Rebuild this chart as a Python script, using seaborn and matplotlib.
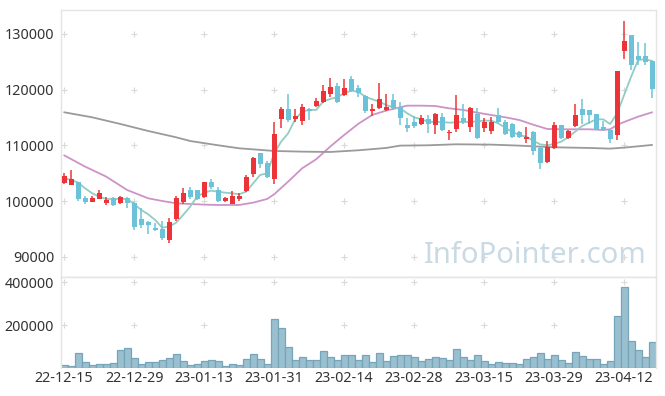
import numpy as np
import matplotlib
matplotlib.use('Agg')
import matplotlib.pyplot as plt
import seaborn as sns

tick_labels = ['22-12-15', '22-12-29', '23-01-13', '23-01-31', '23-02-14',
               '23-02-28', '23-03-15', '23-03-29', '23-04-12']

opens = [103330, 102930, 103390, 100580, 99920, 100460, 99680, 100520, 99620, 100520,
         99680, 96750, 96330, 95200, 95080, 92980, 96810, 99920, 102010, 102010,
         100820, 103390, 102070, 100040, 99560, 100400, 101830, 104950, 108650, 106860,
         103930, 114810, 116550, 114750, 114450, 116550, 117080, 117860, 119290, 120730,
         119110, 121870, 120310, 118940, 116250, 116780, 116430, 118160, 116840, 113740,
         114210, 113920, 114690, 113730, 115110, 112180, 112960, 114930, 113320, 115650,
         113140, 112600, 115470, 114210, 113850, 112420, 111160, 112420, 109550, 107040,
         109610, 113680, 111340, 113500, 116550, 116370, 115650, 113320, 112780, 111880,
         127010, 129880, 126050, 126050, 125160]
closes = [104530, 103990, 100400, 99860, 100640, 101420, 100160, 99380, 100820, 99620,
          95440, 95740, 95740, 94780, 93460, 96270, 100520, 101420, 100820, 100460,
          103390, 102490, 100040, 100580, 100940, 101000, 104410, 107760, 106680, 104410,
          112060, 116550, 114570, 115290, 116900, 116190, 118040, 119830, 120490, 117860,
          120310, 119830, 119470, 116190, 116610, 118340, 116960, 116780, 114990, 113140,
          113500, 114870, 113800, 115650, 112780, 112420, 115470, 114210, 116720, 111400,
          114210, 114210, 114210, 112060, 111520, 111520, 111520, 109010, 106860, 109730,
          113680, 111340, 112600, 115470, 115530, 115470, 112840, 112780, 111160, 123360,
          128740, 124440, 125340, 124980, 120190]
highs = [105000, 105600, 103510, 100880, 100940, 101950, 100820, 100820, 100940, 100700,
         99860, 98720, 96510, 96030, 96450, 96930, 100940, 102430, 102490, 102010,
         103510, 103990, 102550, 100820, 101830, 101420, 104710, 108000, 108650, 107220,
         114150, 116960, 119180, 116490, 117380, 116780, 118460, 120790, 122050, 121150,
         121870, 122530, 120850, 119060, 117380, 121210, 119180, 119180, 117740, 114870,
         115290, 115470, 115470, 115770, 115770, 112780, 119060, 117440, 116900, 116720,
         114930, 115110, 116720, 114570, 114030, 112600, 113320, 112600, 109730, 110800,
         114210, 113680, 112780, 117440, 118340, 116370, 115650, 114390, 112960, 123360,
         132330, 129880, 128570, 128390, 125160]
lows = [103030, 102900, 100040, 99560, 99860, 100340, 99380, 99140, 99440, 98700,
        94840, 95260, 94120, 94600, 93040, 92560, 96450, 99440, 100400, 100220,
        100520, 102250, 99860, 99860, 99500, 100100, 101650, 104410, 105900, 104230,
        103030, 113200, 114150, 114270, 113620, 114570, 116840, 117680, 118760, 117560,
        118940, 119590, 118760, 115890, 115230, 116610, 116250, 116370, 113620, 112420,
        113200, 113680, 112240, 112000, 112600, 110980, 112420, 113850, 112420, 111220,
        112420, 112060, 114030, 111880, 111340, 111340, 110450, 108290, 105780, 106860,
        109430, 111160, 111220, 113320, 113850, 113850, 112780, 112660, 110500, 110980,
        125580, 123540, 124440, 124440, 118580]
volumes = [14000, 9400, 70200, 28100, 14000, 18700, 18700, 23400, 84300, 93700,
           46800, 18700, 28100, 28100, 37500, 46800, 65600, 32800, 14000, 18700,
           32800, 37500, 32800, 9400, 18700, 14000, 42100, 65600, 42100, 18700,
           229500, 187300, 98300, 37500, 51500, 37500, 37500, 79600, 51500, 37500,
           60900, 60900, 37500, 60900, 28100, 70200, 32800, 56200, 60900, 60900,
           51500, 32800, 42100, 51500, 46800, 37500, 89000, 51500, 37500, 60900,
           32800, 18700, 28100, 23400, 23400, 18700, 42100, 51500, 70200, 42100,
           60900, 37500, 23400, 74900, 56200, 42100, 42100, 18700, 32800, 243500,
           379300, 126400, 84300, 51500, 121800]
ma5 = [104110, 103810, 103330, 102310, 101420, 100820, 100400, 100400, 100400, 100400,
       99500, 98430, 97650, 96630, 95260, 95440, 96150, 97530, 99020, 100820,
       101530, 101890, 101710, 101530, 101420, 101240, 101710, 103210, 104710, 105000,
       108590, 110680, 112180, 114690, 116070, 116370, 116370, 117860, 118340, 118640,
       119360, 119830, 119650, 118760, 118280, 117860, 117260, 116840, 116670, 115770,
       115050, 114690, 114270, 114210, 114210, 114090, 114150, 114210, 114210, 114330,
       114450, 114450, 113970, 113200, 112420, 111880, 111580, 110860, 110200, 110030,
       110270, 110680, 111460, 112480, 113500, 114090, 114690, 114690, 113850, 115770,
       119060, 122350, 125340, 125460, 125160]
ma20_x = [0, 3, 6, 9, 12, 14, 16, 18, 20, 22, 25, 27, 29, 30, 32, 34, 36, 38, 40, 42, 44,
          46, 48, 49, 51, 53, 55, 57, 59, 61, 63, 65, 67, 69, 71, 73, 75, 77, 78, 79, 80,
          82, 84]
ma20 = [108230, 106200, 104410, 102010, 100520, 100040, 99620, 99500, 99380, 99320,
        99320, 99740, 100400, 101240, 103510, 105900, 107520, 109790, 111880, 113860,
        115470, 116250, 116840, 117140, 117140, 117080, 116660, 116370, 115890, 115470,
        115050, 114570, 113730, 112960, 112900, 112900, 112900, 112780, 112900, 113680,
        114210, 115170, 115950]
ma60_x = [0, 4, 8, 12, 16, 18, 22, 25, 30, 34, 38, 42, 46, 48, 52, 56, 61, 65, 70, 75,
          78, 80, 84]
ma60 = [115950, 115050, 113860, 112600, 111460, 110800, 110030, 109490, 109010, 108890,
        108830, 109130, 109550, 109970, 110030, 110210, 110150, 109970, 109670, 109550,
        109430, 109610, 110090]

price_ticks = [90000, 100000, 110000, 120000, 130000]
vol_ticks = [200000, 400000]

UP, DOWN = '#ec3438', '#6cc3d9'
GRID, SPINE, TXT = '#d9d9d9', '#e4e4e4', '#333333'

sns.set_style('white')
plt.rcParams['font.family'] = ['Noto Sans', 'DejaVu Sans']

fig = plt.figure(figsize=(6.65, 3.96), dpi=100)
ax = fig.add_axes([61 / 665, 119 / 396, 595 / 665, 267 / 396])
axv = fig.add_axes([61 / 665, 28 / 396, 595 / 665, 91 / 396], sharex=ax)

idx = np.arange(len(opens))
o, c = np.array(opens), np.array(closes)
up = c >= o
colors = np.where(up, UP, DOWN)

# moving averages
sns.lineplot(x=idx, y=ma5, ax=ax, color='#92cdc3', linewidth=1.3, zorder=3)
sns.lineplot(x=ma20_x, y=ma20, ax=ax, color='#cd93c7', linewidth=1.3, zorder=2)
sns.lineplot(x=ma60_x, y=ma60, ax=ax, color='#9a9a9a', linewidth=1.3, zorder=2)

# candles
ax.vlines(idx, lows, highs, colors=colors, linewidth=1.1, zorder=4)
body = np.maximum(np.abs(c - o), 250)
ax.bar(idx, body, bottom=np.minimum(o, c), width=0.72, color=colors, linewidth=0, zorder=5)

# volume
sns.barplot(x=idx, y=volumes, ax=axv, native_scale=True, width=1, color='#9abfcf',
            saturation=1, edgecolor='#76a5ba', linewidth=0.9, errorbar=None)

xt = np.arange(0, len(opens), 10)
ax.set_xlim(-0.45, 84.55)
ax.set_ylim(86400, 134300)
axv.set_ylim(0, 424000)

for a, yt in ((ax, price_ticks), (axv, vol_ticks)):
    gx, gy = np.meshgrid(xt, yt)
    a.plot(gx.ravel(), gy.ravel(), ls='none', marker='+', ms=4, mew=0.8, color=GRID, zorder=0)
    a.set_yticks(yt)
    a.set_yticklabels([str(v) for v in yt], color=TXT, fontsize=10.3)
    a.tick_params(length=0, pad=5)
    for s in a.spines.values():
        s.set_color(SPINE)
        s.set_linewidth(1)
    a.set_xlabel('')
    a.set_ylabel('')

axv.spines['bottom'].set_visible(False)
ax.tick_params(axis='x', labelbottom=False)
axv.set_xticks(xt)
axv.set_xticklabels(tick_labels, color=TXT, fontsize=10.3)
axv.tick_params(axis='x', pad=2)

ax.text(0.985, 0.025, 'InfoPointer.com', transform=ax.transAxes, ha='right', va='bottom',
        fontsize=21, color='#c9dae5', zorder=1)

fig.savefig('out.png', dpi=100)
